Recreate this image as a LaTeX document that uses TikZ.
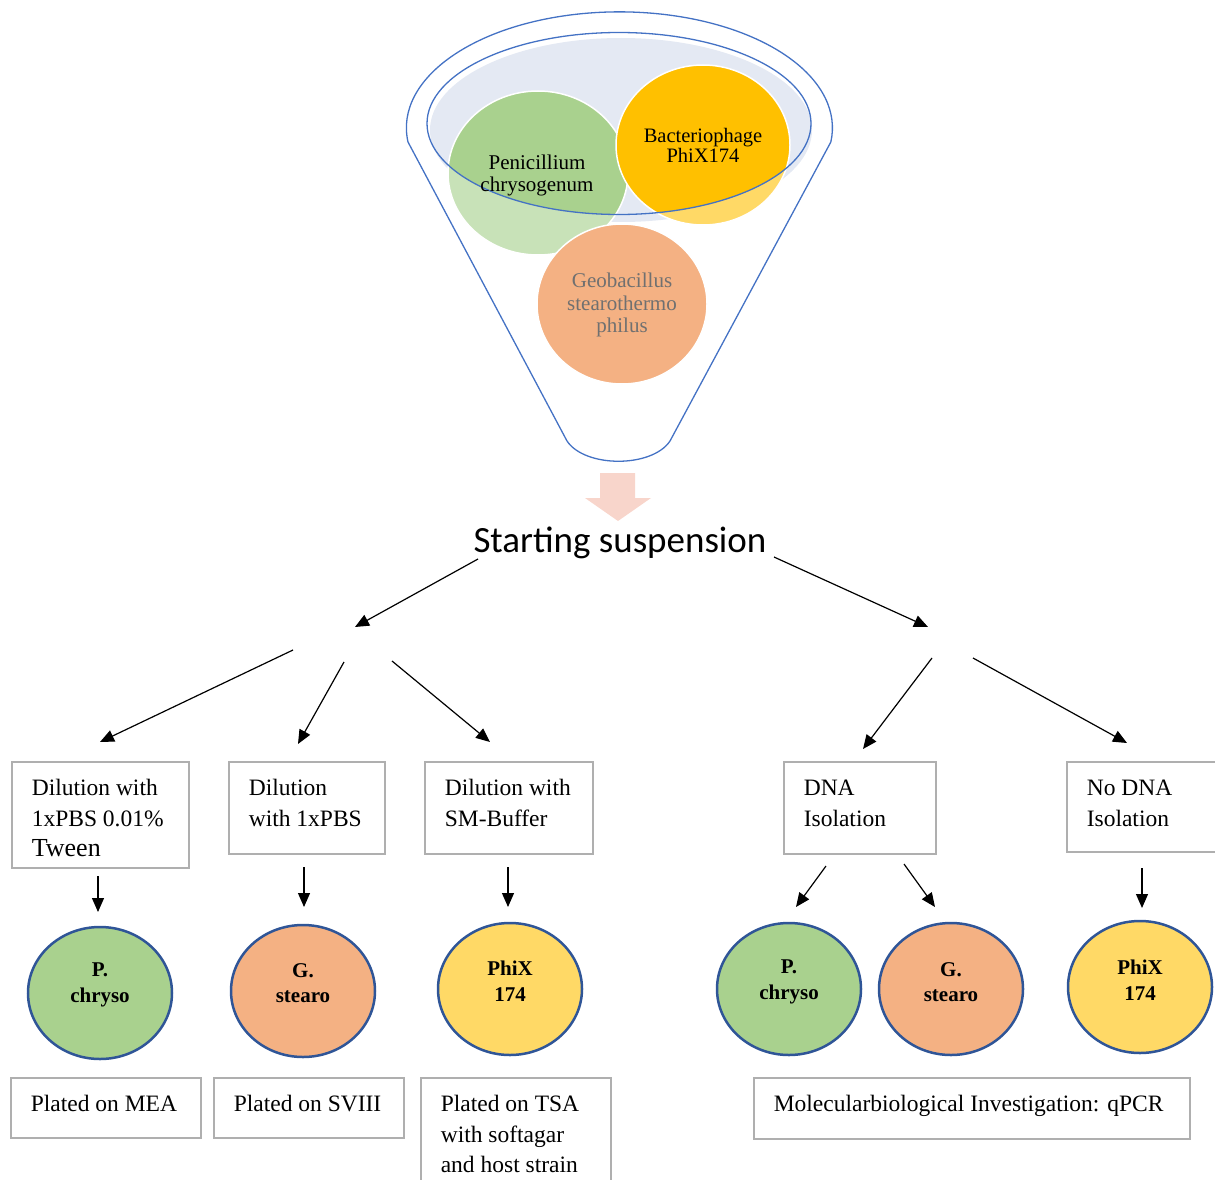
\documentclass[tikz,border=0pt]{standalone}
\usepackage{fontspec}
\setmainfont{Liberation Serif}
\newfontfamily\titlefont{Carlito}
\usetikzlibrary{arrows.meta,shapes.geometric}
\definecolor{funfill}{RGB}{228,233,243}
\definecolor{funblue}{RGB}{68,114,196}
\definecolor{cgreen}{RGB}{169,209,142}
\definecolor{lgreen}{RGB}{200,226,184}
\definecolor{corange}{RGB}{244,177,131}
\definecolor{cyellow}{RGB}{255,217,102}
\definecolor{cgold}{RGB}{255,192,0}
\definecolor{cborder}{RGB}{47,85,151}
\definecolor{boxgray}{RGB}{175,175,175}
\definecolor{pinkarr}{RGB}{248,213,203}
\definecolor{geogray}{RGB}{112,112,112}
\newcommand{\mybox}[3]{\parbox[c][#2pt][t]{#1pt}{\raggedright\leftskip=20pt\rule{0pt}{34pt}#3}}
\begin{document}
\begin{tikzpicture}[x=1pt,y=1pt,
  ftext/.style={align=center, inner sep=0pt, font=\fontsize{21}{22}\selectfont},
  boxn/.style={draw=boxgray, line width=1.6pt, inner sep=0pt, anchor=north west, font=\fontsize{23.5}{30.5}\selectfont},
  circ/.style={ellipse, draw=cborder, line width=2.5pt, minimum width=144pt, minimum height=132pt, inner sep=0pt},
  ctext/.style={align=center, inner sep=0pt, font=\bfseries\fontsize{21}{25.5}\selectfont},
  arr/.style={draw=black, line width=1.2pt, -{Triangle[length=14pt,width=12pt]}}]
\useasboundingbox (0,0) rectangle (1215,-1180);

% ---------- funnel ----------
\fill[funfill] (621,-130) ellipse [x radius=191, y radius=92];
% green circle
\fill[lgreen] (538,-173) ellipse [x radius=90, y radius=82];
\begin{scope}
  \clip (619,-123.5) ellipse [x radius=192, y radius=91];
  \fill[cgreen] (538,-173) ellipse [x radius=90, y radius=82];
\end{scope}
\draw[white, line width=1.5pt] (538,-173) ellipse [x radius=90, y radius=82];
% yellow circle
\fill[cyellow] (703,-145) ellipse [x radius=87, y radius=80];
\begin{scope}
  \clip (619,-123.5) ellipse [x radius=192, y radius=91];
  \fill[cgold] (703,-145) ellipse [x radius=87, y radius=80];
\end{scope}
\draw[white, line width=1.5pt] (703,-145) ellipse [x radius=87, y radius=80];
% orange circle
\fill[corange, draw=white, line width=1.5pt] (622,-304) ellipse [x radius=85, y radius=80];
% outlines
\draw[funblue, line width=1.3pt] (619,-123.5) ellipse [x radius=192, y radius=91];
\draw[funblue, line width=1.3pt] (567,-441) -- (408,-142)
  arc[start angle=187, end angle=-7, x radius=213, y radius=116]
  -- (670,-441) .. controls (652,-468) and (585,-468) .. (567,-441) -- cycle;
% funnel texts
\node[ftext] (tpen) at (537,-175) {Penicillium\\chrysogenum};
\node[ftext, font=\fontsize{20.5}{20}\selectfont] (tbac) at (703,-145) {Bacteriophage\\PhiX174};
\node[ftext, text=geogray, font=\fontsize{21}{22.5}\selectfont] (tgeo) at (622,-305) {Geobacillus\\stearothermo\\philus};

% big pink arrow
\fill[pinkarr] (600,-473) -- (635,-473) -- (635,-498) -- (651,-498) -- (618,-521)
  -- (585,-498) -- (600,-498) -- cycle;

% title
\node[font=\titlefont\fontsize{37}{40}\selectfont, inner sep=0pt] (start) at (620,-543) {Starting suspension};

% ---------- boxes ----------
\node[boxn] (b1) at (11,-761) {\mybox{177}{106}{Dilution with\\1xPBS 0.01\%\\{\fontsize{26}{30.5}\selectfont Tween}}};
\node[boxn] (b2) at (228,-761) {\mybox{156}{92}{Dilution\\with 1xPBS}};
\node[boxn] (b3) at (424,-761) {\mybox{168}{92}{Dilution with\\SM-Buffer}};
\node[boxn] (b4) at (783,-761) {\mybox{152}{92}{DNA\\Isolation}};
\node[boxn] (b5) at (1066,-761) {\mybox{175}{90}{No DNA\\Isolation}};
\node[boxn] (b6) at (10,-1077) {\mybox{190}{60}{Plated on MEA}};
\node[boxn] (b7) at (213,-1077) {\mybox{190}{60}{Plated on SVIII}};
\node[boxn] (b8) at (420,-1077) {\mybox{190}{125}{Plated on TSA\\with softagar\\and host strain}};
\node[boxn] (b9) at (753,-1077) {\mybox{436}{61}{Molecularbiological Investigation: qPCR}};

% ---------- circles ----------
\node[circ, fill=cgreen] (c1) at (100,-993) {};
\node[circ, fill=corange] (c2) at (303,-991) {};
\node[circ, fill=cyellow] (c3) at (510,-989) {};
\node[circ, fill=cgreen] (c4) at (789,-989) {};
\node[circ, fill=corange] (c5) at (951,-989) {};
\node[circ, fill=cyellow] (c6) at (1140,-987) {};
\node[ctext] (t1) at ([yshift=8pt]c1.center) {P.\\chryso};
\node[ctext] (t2) at ([yshift=8pt]c2.center) {G.\\stearo};
\node[ctext] (t3) at ([yshift=8pt]c3.center) {PhiX\\174};
\node[ctext] (t4) at ([yshift=7pt]c4.center) {P.\\chryso};
\node[ctext] (t5) at ([yshift=7pt]c5.center) {G.\\stearo};
\node[ctext] (t6) at ([yshift=7pt]c6.center) {PhiX\\174};

% ---------- arrows ----------
\coordinate (sL0) at (478,-559); \coordinate (sL1) at (355,-627);
\coordinate (sR0) at (774,-557); \coordinate (sR1) at (928,-627);
\coordinate (lA0) at (293,-650); \coordinate (lA1) at (100,-742);
\coordinate (lB0) at (344,-662); \coordinate (lB1) at (298,-744);
\coordinate (lC0) at (392,-661); \coordinate (lC1) at (490,-742);
\coordinate (rA0) at (932,-658); \coordinate (rA1) at (863,-749);
\coordinate (rB0) at (973,-658); \coordinate (rB1) at (1127,-743);
\coordinate (v10) at (98,-876);  \coordinate (v11) at (98,-912);
\coordinate (v20) at (304,-867); \coordinate (v21) at (304,-907);
\coordinate (v30) at (508,-867); \coordinate (v31) at (508,-907);
\coordinate (v40) at (1142,-868); \coordinate (v41) at (1142,-908);
\coordinate (d10) at (826,-866); \coordinate (d11) at (796,-907);
\coordinate (d20) at (904,-864); \coordinate (d21) at (935,-907);
\draw[arr] (sL0) -- (sL1);
\draw[arr] (sR0) -- (sR1);
\draw[arr] (lA0) -- (lA1);
\draw[arr] (lB0) -- (lB1);
\draw[arr] (lC0) -- (lC1);
\draw[arr] (rA0) -- (rA1);
\draw[arr] (rB0) -- (rB1);
\draw[arr] (v10) -- (v11);
\draw[arr] (v20) -- (v21);
\draw[arr] (v30) -- (v31);
\draw[arr] (v40) -- (v41);
\draw[arr] (d10) -- (d11);
\draw[arr] (d20) -- (d21);
\end{tikzpicture}
\end{document}
